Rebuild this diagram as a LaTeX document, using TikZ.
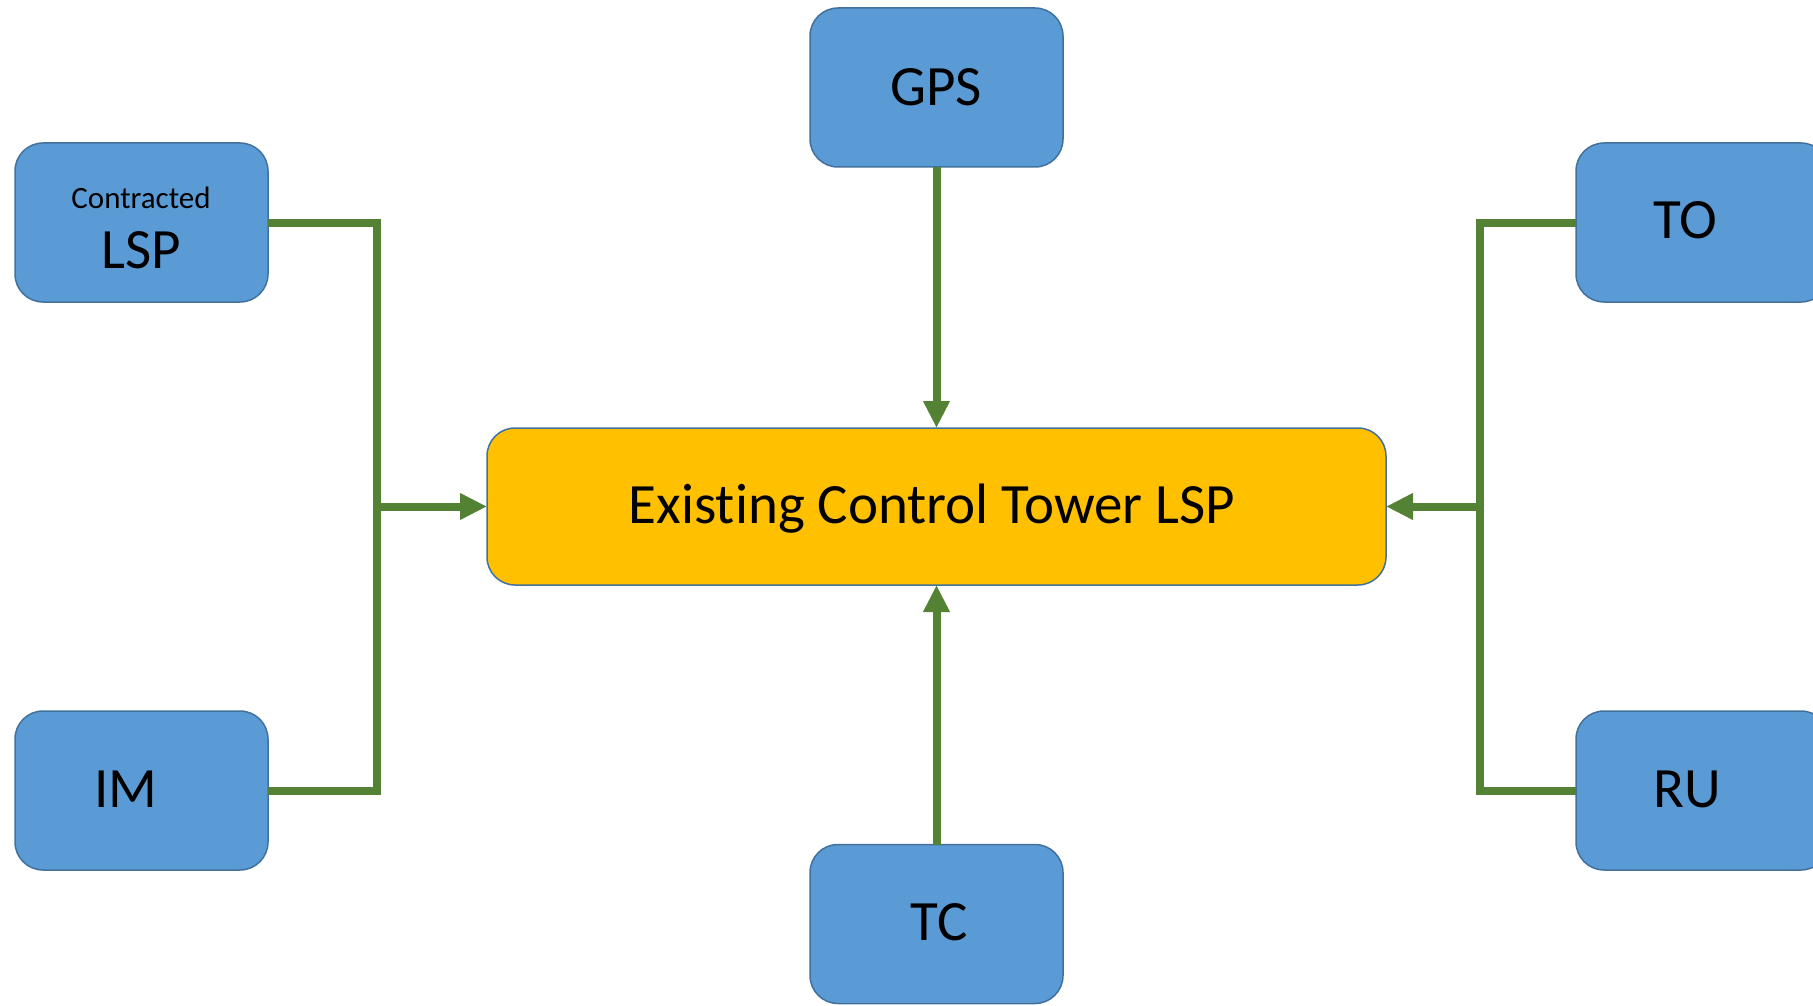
\documentclass[tikz,border=0pt]{standalone}
\usepackage{fontspec}
\setmainfont{Carlito}[Ligatures=NoCommon]
\usetikzlibrary{arrows.meta}

\definecolor{boxblue}{HTML}{5B9BD5}
\definecolor{boxedge}{HTML}{41719C}
\definecolor{towerfill}{HTML}{FFC000}
\definecolor{linkgreen}{HTML}{548235}

\begin{document}
\begin{tikzpicture}[x=1pt, y=-1pt,
  party/.style={draw=boxedge, line width=1.5pt, fill=boxblue, rounded corners=28pt,
    minimum width=253pt, minimum height=159pt, inner sep=0pt, outer sep=0pt},
  tower/.style={draw=boxedge, line width=1.5pt, fill=towerfill, rounded corners=28pt,
    minimum width=899pt, minimum height=157pt, inner sep=0pt, outer sep=0pt},
  bigtext/.style={inner sep=0pt, font=\fontsize{57}{62}\selectfont,
    text height=36.5pt, text depth=0pt},
  smalltext/.style={inner sep=0pt, font=\fontsize{31}{34}\selectfont,
    text height=20pt, text depth=0pt},
  link/.style={draw=linkgreen, line width=8pt},
  flow/.style={link, -{Triangle[length=27pt, width=25pt]}}
]
  \useasboundingbox (0,0) rectangle (1813,1006);

  % central control tower
  \node[tower] (ctl) at (936.5,506.5) {};
  \node[bigtext] (ctltext) at (932,505) {Existing Control Tower LSP};

  % surrounding parties
  \node[party] (gps) at (936.5,87.5) {};
  \node[bigtext] (gpstext) at (936,87) {GPS};

  \node[party] (tc) at (936.5,924) {};
  \node[bigtext] (tctext) at (939,922) {TC};

  \node[party] (lsp) at (141.5,222.5) {};
  \node[smalltext] (lsptop) at (141,198) {Contracted};
  \node[bigtext] (lspmain) at (141,250) {LSP};

  \node[party] (im) at (141.5,790.5) {};
  \node[bigtext] (imtext) at (126,789) {IM};

  \node[party, minimum width=253pt] (to) at (1702.5,222.5) {};
  \node[bigtext] (totext) at (1685,220) {TO};

  \node[party, minimum width=253pt] (ru) at (1702.5,790.5) {};
  \node[bigtext] (rutext) at (1687,789) {RU};

  % junction points of the side buses
  \coordinate (lbus) at (377,506.5);
  \coordinate (rbus) at (1480,506.5);

  % connectors
  \draw[link] (lsp.east) -| (lbus) |- (im.east);
  \draw[flow] (lbus) -- (ctl.west);
  \draw[link] (to.west) -| (rbus) |- (ru.west);
  \draw[flow] (rbus) -- (ctl.east);
  \draw[flow] (gps.south) -- (ctl.north);
  \draw[flow] (tc.north) -- (ctl.south);
\end{tikzpicture}
\end{document}
